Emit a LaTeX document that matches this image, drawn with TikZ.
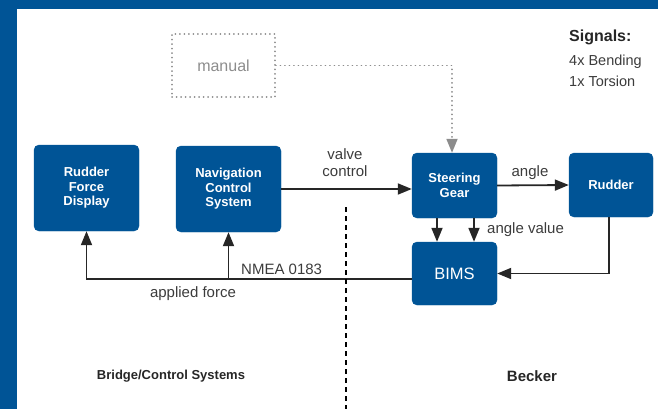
\documentclass[tikz,border=0pt]{standalone}
\usepackage{fontspec}
\setmainfont{Liberation Sans}
\usepackage{tikz}
\usetikzlibrary{calc}
\usetikzlibrary{positioning}
\usetikzlibrary{arrows.meta}
\definecolor{bimsblue}{RGB}{0,84,150}
\definecolor{labelgray}{RGB}{60,60,60}
\definecolor{dotgray}{RGB}{140,140,140}
\tikzset{
  unit/.style={rectangle, draw=bimsblue, fill=bimsblue, rounded corners=5pt, text=white, align=center, font=\fontsize{13}{14.5}\selectfont\bfseries, inner sep=0pt},
  sig/.style={line width=1.8pt, draw=black!85, -{Triangle[length=14pt,width=11pt]}},
  lbl/.style={text=labelgray, font=\fontsize{15}{17}\selectfont, inner sep=0pt}
}

\begin{document}
\begin{tikzpicture}[x=1pt,y=-1pt]

\useasboundingbox (0,0) rectangle (658,409);
\fill[bimsblue] (0,0) rectangle (658,9);
\fill[bimsblue] (0,0) rectangle (17,409);

\node at (86.5,188)[unit, minimum width=105pt, minimum height=86pt] (rfd) {Rudder\\Force\\Display};
\node at (228.5,189)[unit, minimum width=105pt, minimum height=86pt] (ncs) {Navigation\\Control\\System};
\node at (454.5,185.5)[unit, minimum width=85pt, minimum height=65pt] (steer) {Steering\\Gear};
\node at (611,185)[unit, minimum width=84pt, minimum height=64pt] (rudder) {Rudder};
\node at (454.5,273.5)[unit, minimum width=85pt, minimum height=63pt, font=\fontsize{16.5}{18}\selectfont] (bims) {BIMS};

\node at (223.5,65.5)[rectangle, draw=dotgray, line width=1.8pt, dash pattern=on 0.1pt off 4.4pt, line cap=round, minimum width=103pt, minimum height=63pt, text=dotgray, font=\fontsize{16}{18}\selectfont] (manual) {manual};

% connectors
\draw[sig] (ncs.east) -- (ncs.east -| steer.west);
\draw[sig] (steer.east) -- (rudder.west);
\draw[sig] ([xshift=-17.5pt]steer.south) -- ([xshift=-17.5pt]bims.north);
\draw[sig] ([xshift=19.5pt]steer.south) -- ([xshift=19.5pt]bims.north);
\draw[sig] ([xshift=-2pt]rudder.south) |- (bims.east);
\coordinate (bus) at ([yshift=-5.5pt]bims.west);
\draw[sig] (bus) -| (rfd.south);
\draw[sig] (ncs.south |- bus) -- (ncs.south);
\draw[sig, draw=dotgray, dash pattern=on 0.1pt off 4.4pt, line cap=round, -{Triangle[length=14pt,width=11pt,fill=dotgray]}] (manual.east) -| ([xshift=-2.5pt]steer.north);

% divider
\draw[line width=1.8pt, dash pattern=on 5pt off 4pt] (346,207) -- (346,409);

% labels
\node at (345,163)[lbl, align=center, font=\fontsize{15}{17}\selectfont] (valve) {valve\\control};
\node at (530,173)[lbl] (angle) {angle};
\node at (487,230)[lbl, anchor=west] (anglevalue) {angle value};
\node at (241,269)[lbl, anchor=west] (nmea) {NMEA 0183};
\node at (193,294)[lbl] (force) {applied force};

\node at (569,37)[anchor=west, inner sep=0pt, font=\fontsize{16}{18}\selectfont\bfseries, text=black!85] (signals) {Signals:};
\node at (569,62)[lbl, anchor=west, font=\fontsize{14.5}{17}\selectfont] (bending) {4x Bending};
\node at (569,81)[lbl, anchor=west, font=\fontsize{14.5}{17}\selectfont] (torsion) {1x Torsion};

\node at (171,376)[inner sep=0pt, font=\fontsize{13}{15}\selectfont\bfseries, text=black!85] (bridge) {Bridge/Control Systems};
\node at (532,376)[inner sep=0pt, font=\fontsize{15}{17}\selectfont\bfseries, text=black!85] (becker) {Becker};

\end{tikzpicture}
\end{document}
